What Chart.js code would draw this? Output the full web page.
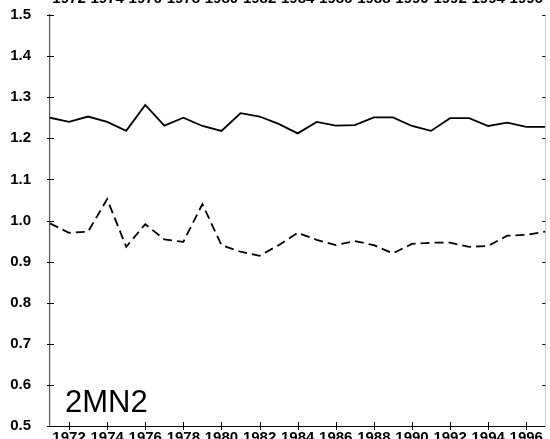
<!DOCTYPE html>
<html>
<head>
<meta charset="utf-8">
<script src="https://cdn.jsdelivr.net/npm/chart.js@4.4.0/dist/chart.umd.min.js"></script>
<style>
  html, body { margin: 0; padding: 0; background: #fff; overflow: hidden; }
  #wrap { position: relative; width: 550px; height: 439px; overflow: hidden; }
  #wrap canvas { position: absolute; left: 0; top: -20px; }
</style>
</head>
<body>
<div id="wrap"><canvas id="chart" width="550" height="479"></canvas></div>
<script>
// yearly values
var years = [1971, 1972, 1973, 1974, 1975, 1976, 1977, 1978, 1979, 1980, 1981, 1982, 1983, 1984,
             1985, 1986, 1987, 1988, 1989, 1990, 1991, 1992, 1993, 1994, 1995, 1996, 1997];
var solidSeries = [1.250, 1.240, 1.253, 1.240, 1.218, 1.281, 1.231, 1.250, 1.230, 1.218, 1.261, 1.253, 1.235, 1.212,
                   1.240, 1.231, 1.232, 1.251, 1.251, 1.230, 1.218, 1.249, 1.249, 1.230, 1.238, 1.228, 1.228];
var dashedSeries = [0.993, 0.970, 0.973, 1.052, 0.936, 0.991, 0.954, 0.948, 1.040, 0.940, 0.924, 0.914, 0.940, 0.970,
                    0.953, 0.940, 0.950, 0.940, 0.920, 0.943, 0.946, 0.946, 0.936, 0.938, 0.963, 0.965, 0.973];
var yearTicks = [1972, 1974, 1976, 1978, 1980, 1982, 1984, 1986, 1988, 1990, 1992, 1994, 1996];
var panelLabel = '2MN2';

var labelFont = { family: '"Liberation Sans", Arial, sans-serif', size: 15, weight: 'bold' };

function toPoints(vals) {
    return years.map(function(yr, i) { return { x: yr, y: vals[i] }; });
}

function setYearTicks(scale) {
    scale.ticks = yearTicks.map(function(v) { return { value: v }; });
}

// short ticks crossing the axes, plus the panel name
var axisTicks = {
    id: 'axisTicks',
    afterDraw: function(chart) {
        var ctx = chart.ctx, a = chart.chartArea;
        var x = chart.scales.x, y = chart.scales.y;
        ctx.save();
        ctx.strokeStyle = '#000';
        ctx.lineWidth = 1;
        ctx.beginPath();
        y.ticks.forEach(function(t) {
            var py = Math.round(y.getPixelForValue(t.value)) + 0.5;
            ctx.moveTo(a.left - 3, py); ctx.lineTo(a.left + 4, py);
            ctx.moveTo(a.right - 3, py); ctx.lineTo(a.right, py);
        });
        x.ticks.forEach(function(t) {
            var px = Math.round(x.getPixelForValue(t.value)) + 0.5;
            ctx.moveTo(px, a.bottom - 4); ctx.lineTo(px, a.bottom + 4);
        });
        ctx.stroke();

        ctx.fillStyle = '#000';
        ctx.font = '31px "Liberation Sans", Arial, sans-serif';
        ctx.textBaseline = 'alphabetic';
        ctx.fillText(panelLabel, a.left + 15, a.bottom - 14);
        ctx.restore();
    }
};

var ctx = document.getElementById('chart').getContext('2d');
var chart = new Chart(ctx, {
    type: 'line',
    data: {
        datasets: [{
            data: toPoints(solidSeries),
            borderColor: '#000',
            borderWidth: 1.8,
            pointRadius: 0,
            tension: 0
        }, {
            data: toPoints(dashedSeries),
            borderColor: '#000',
            borderWidth: 1.8,
            borderDash: [9, 5],
            pointRadius: 0,
            tension: 0
        }]
    },
    options: {
        responsive: false,
        animation: false,
        devicePixelRatio: 1,
        layout: { padding: 0 },
        plugins: { legend: { display: false }, tooltip: { enabled: false } },
        scales: {
            x: {
                type: 'linear', position: 'bottom', min: 1971, max: 1997,
                afterFit: function(s) { s.height = 33; },
                afterBuildTicks: setYearTicks,
                grid: { display: false, drawTicks: false },
                border: { display: true, color: '#000', width: 1 },
                ticks: { padding: 3, color: '#000', font: labelFont, maxRotation: 0, autoSkip: false,
                         callback: function(v) { return String(v); } }
            },
            xTop: {
                type: 'linear', position: 'top', min: 1971, max: 1997,
                afterFit: function(s) { s.height = 35; },
                afterBuildTicks: setYearTicks,
                grid: { display: false, drawTicks: false },
                border: { display: false },
                ticks: { padding: 7, color: '#000', font: labelFont, maxRotation: 0, autoSkip: false,
                         callback: function(v) { return String(v); } }
            },
            y: {
                position: 'left', min: 0.5, max: 1.5,
                afterFit: function(s) { s.width = 50; },
                grid: { display: false, drawTicks: false },
                border: { display: true, color: '#555', width: 1.2 },
                ticks: { stepSize: 0.1, padding: 19, color: '#000', font: labelFont,
                         callback: function(v) { return v.toFixed(1); } }
            },
            yRight: {
                position: 'right', min: 0.5, max: 1.5,
                afterFit: function(s) { s.width = 1; },
                grid: { display: false, drawTicks: false },
                border: { display: true, color: '#ccc', width: 1 },
                ticks: { display: false, stepSize: 0.1 }
            }
        }
    },
    plugins: [axisTicks]
});
</script>
</body>
</html>
